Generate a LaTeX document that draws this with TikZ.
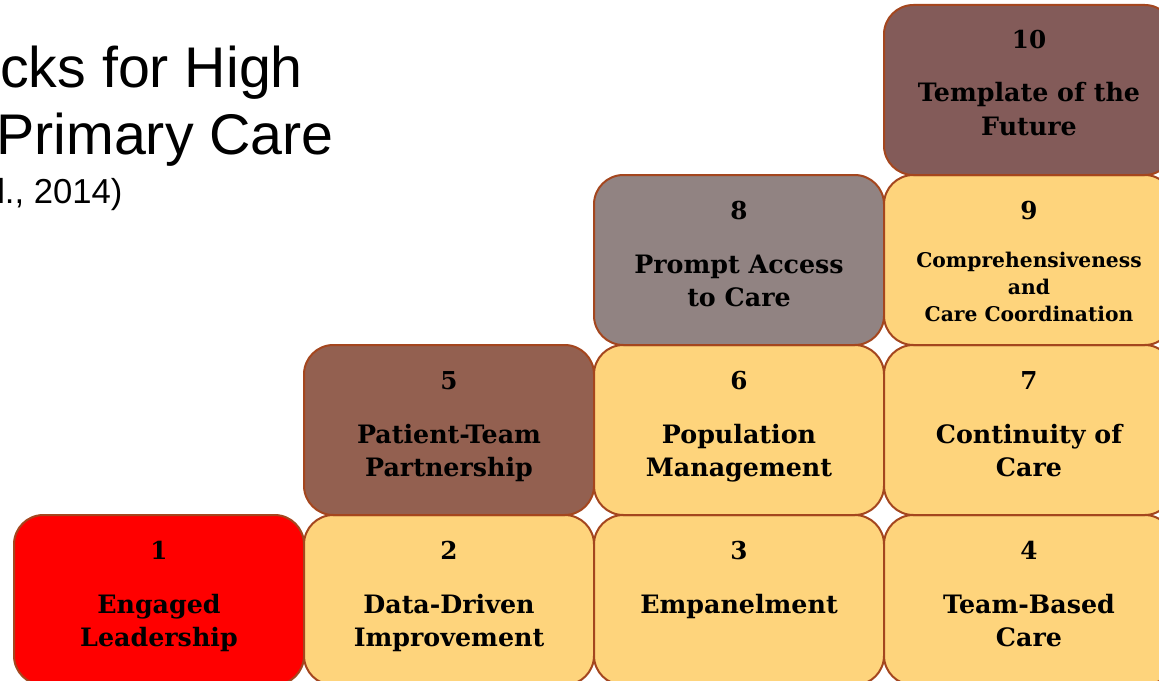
\documentclass[tikz,border=0pt]{standalone}
\usepackage{fontspec}
\setmainfont{DejaVu Serif}
\newfontfamily\headingfont{Liberation Sans}
\usetikzlibrary{calc}

\definecolor{blockyellow}{HTML}{FED47C}
\definecolor{blockred}{HTML}{FF0000}
\definecolor{blockbrown}{HTML}{936050}
\definecolor{blockgray}{HTML}{918382}
\definecolor{blockplum}{HTML}{835B59}
\definecolor{blockedge}{HTML}{A4461E}

% one unit = one pixel of a 1159 x 681 canvas, y running downwards
\tikzset{
  x=0.75pt, y=-0.75pt,
  block/.style={draw=blockedge, line width=1.5pt, rounded corners=22pt,
    minimum width=217.5pt, minimum height=127.5pt, inner sep=0pt},
  blocknum/.style={anchor=base, inner sep=0pt, font=\fontsize{18.5}{20}\selectfont\bfseries},
  blockline/.style={anchor=base, inner sep=0pt, font=\fontsize{19}{22}\selectfont\bfseries},
  smallline/.style={anchor=base, inner sep=0pt, font=\fontsize{15.2}{17}\selectfont\bfseries},
  heading/.style={anchor=base west, inner sep=0pt, font=\headingfont\fontsize{43}{50}\selectfont},
  subheading/.style={anchor=base west, inner sep=0pt, font=\headingfont\fontsize{26}{30}\selectfont}
}

% block: name, centre, fill, number
\newcommand\placeblock[4]{%
  \node[block, fill=#3] (#1) at (#2) {};
  \node[blocknum] (#1-num) at ($(#1.north)+(0,45)$) {#4};
}

\begin{document}
\begin{tikzpicture}
\useasboundingbox (0,0) rectangle (1159,681);
\clip (0,0) rectangle (1159,681);

% heading
\node[heading] (h1) at (0,88) {cks for High};
\node[heading] (h2) at (-4,155) {Primary Care};
\node[subheading] (h3) at (-3,203) {l., 2014)};

% bottom row
\placeblock{b1}{159,600}{blockred}{1}
\placeblock{b2}{449,600}{blockyellow}{2}
\placeblock{b3}{739,600}{blockyellow}{3}
\placeblock{b4}{1029,600}{blockyellow}{4}
% second row
\placeblock{b5}{449,430}{blockbrown}{5}
\placeblock{b6}{739,430}{blockyellow}{6}
\placeblock{b7}{1029,430}{blockyellow}{7}
% third row
\placeblock{b8}{739,260}{blockgray}{8}
\placeblock{b9}{1029,260}{blockyellow}{9}
% top
\placeblock{b10}{1029,90}{blockplum}{10}

% captions
\node[blockline] (b1-a) at ($(b1.north)+(0,99)$) {Engaged};
\node[blockline] (b1-b) at ($(b1.north)+(0,132)$) {Leadership};
\node[blockline] (b2-a) at ($(b2.north)+(0,99)$) {Data-Driven};
\node[blockline] (b2-b) at ($(b2.north)+(0,132)$) {Improvement};
\node[blockline] (b3-a) at ($(b3.north)+(0,99)$) {Empanelment};
\node[blockline] (b4-a) at ($(b4.north)+(0,99)$) {Team-Based};
\node[blockline] (b4-b) at ($(b4.north)+(0,132)$) {Care};
\node[blockline] (b5-a) at ($(b5.north)+(0,99)$) {Patient-Team};
\node[blockline] (b5-b) at ($(b5.north)+(0,132)$) {Partnership};
\node[blockline] (b6-a) at ($(b6.north)+(0,99)$) {Population};
\node[blockline] (b6-b) at ($(b6.north)+(0,132)$) {Management};
\node[blockline] (b7-a) at ($(b7.north)+(0,99)$) {Continuity of};
\node[blockline] (b7-b) at ($(b7.north)+(0,132)$) {Care};
\node[blockline] (b8-a) at ($(b8.north)+(0,99)$) {Prompt Access};
\node[blockline] (b8-b) at ($(b8.north)+(0,132)$) {to Care};
\node[smallline] (b9-a) at ($(b9.north)+(0,93)$) {Comprehensiveness};
\node[smallline] (b9-b) at ($(b9.north)+(0,120)$) {and};
\node[smallline] (b9-c) at ($(b9.north)+(0,147)$) {Care Coordination};
\node[blockline] (b10-a) at ($(b10.north)+(0,98)$) {Template of the};
\node[blockline] (b10-b) at ($(b10.north)+(0,132)$) {Future};
\end{tikzpicture}
\end{document}
